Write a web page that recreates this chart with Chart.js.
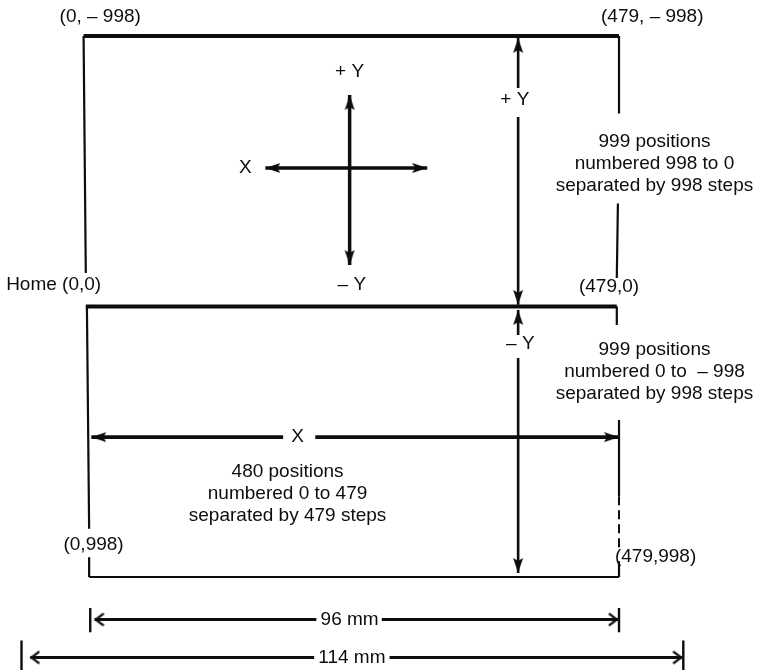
<!DOCTYPE html>
<html>
<head>
<meta charset="utf-8">
<script src="https://cdn.jsdelivr.net/npm/chart.js@4.4.1/dist/chart.umd.min.js"></script>
<style>
  html, body { margin: 0; padding: 0; background: #fff; }
</style>
</head>
<body>
<canvas id="plotterArea" width="769" height="670"></canvas>
<script>
// everything is in plotter steps: x 0..479, y -998 (top) .. 998 (bottom)
// segments are [x1, y1, x2, y2]

// heavy edges of the page
const heavyEdges = [
  [-4, -998, 479, -998],   // top edge
  [-2, 0, 477, 0]          // home line
];

// thin edges, broken where the labels sit
const thinEdges = [
  [-4, -998, -2, -124],
  [-1, 0, 1, 820],
  [1, 925, 1, 998],
  [1, 998, 479, 998],      // bottom edge
  [479, -998, 479, -712],
  [478, -380, 477, -105],
  [477, 0, 477, 68],
  [479, 419, 479, 700],
  [479, 940, 479, 998]
];
const dashedEdges = [
  [479, 700, 479, 900]
];

// the small direction cross
const crossLines = [
  [236, -780, 236, -153],
  [160, -511, 306, -511]
];

// +Y / -Y range arrows
const yRangeLines = [
  [388, -991, 388, -806],
  [388, -699, 388, -6],
  [388, 13, 388, 105],
  [388, 190, 388, 983]
];

// X range arrow, broken by the "X"
const xRangeLines = [
  [3, 482, 176, 482],
  [205, 482, 479, 482]
];

// 96 mm and 114 mm dimension lines
const dimLines = [
  [6, 1155, 206, 1155],
  [265, 1155, 478, 1155],
  [-52, 1295, 204, 1295],
  [272, 1295, 536, 1295]
];
const dimTicks = [
  [2, 1112, 2, 1202],
  [479, 1112, 479, 1202],
  [-60, 1232, -60, 1341],
  [537, 1232, 537, 1341]
];

// arrow tips [x, y, direction]
const solidHeads = [
  [236, -780, 'up'], [236, -153, 'down'], [160, -511, 'left'], [306, -511, 'right'],
  [388, -991, 'up'], [388, -6, 'down'], [388, 13, 'up'], [388, 983, 'down'],
  [3, 482, 'left'], [479, 482, 'right']
];
const openHeads = [
  [6, 1155, 'left'], [478, 1155, 'right'],
  [-52, 1295, 'left'], [536, 1295, 'right']
];

// text [string, x, y]
const labels = [
  ['(0, \u2013 998)', 11, -1068],
  ['(479, \u2013 998)', 509, -1068],
  ['+ Y', 236, -865],
  ['+ Y', 385, -762],
  ['X', 142, -511],
  ['999 positions', 511, -607],
  ['numbered 998 to 0', 511, -526],
  ['separated by 998 steps', 511, -445],
  ['Home (0,0)', -31, -79],
  ['\u2013 Y', 238, -79],
  ['(479,0)', 470, -72],
  ['\u2013 Y', 390, 138],
  ['999 positions', 511, 161],
  ['numbered 0 to  \u2013 998', 511, 242],
  ['separated by 998 steps', 511, 323],
  ['X', 189, 482],
  ['480 positions', 180, 611],
  ['numbered 0 to 479', 180, 692],
  ['separated by 479 steps', 180, 773],
  ['(0,998)', 5, 880],
  ['(479,998)', 512, 925],
  ['96 mm', 236, 1155],
  ['114 mm', 238, 1295]
];

const ink = '#0d0d0d';
const turn = { up: 0, right: 90, down: 180, left: 270 };

// arrowhead pictures, tip sits in the middle of the little canvas so the point is the tip
function makeHead(len, wid, open) {
  const c = document.createElement('canvas');
  c.width = wid + 4;
  c.height = len * 2;
  const g = c.getContext('2d');
  const mid = c.width / 2;
  g.fillStyle = ink;
  g.strokeStyle = ink;
  if (open) {
    g.lineWidth = 2.2;
    g.beginPath();
    g.moveTo(mid - wid / 2, 2 * len - 1);
    g.lineTo(mid, len + 1);
    g.lineTo(mid + wid / 2, 2 * len - 1);
    g.stroke();
  } else {
    g.beginPath();
    g.moveTo(mid, len);
    g.lineTo(mid + wid / 2, 2 * len);
    g.lineTo(mid, 2 * len - 3);
    g.lineTo(mid - wid / 2, 2 * len);
    g.closePath();
    g.fill();
  }
  return c;
}
const solidPic = makeHead(15, 10, false);
const openPic = makeHead(10, 12, true);

function segSet(list, width, dash) {
  return list.map(function(s) {
    return {
      data: [{ x: s[0], y: s[1] }, { x: s[2], y: s[3] }],
      showLine: true,
      borderColor: ink,
      borderWidth: width,
      borderDash: dash || [],
      pointRadius: 0,
      pointHoverRadius: 0
    };
  });
}

function headSet(list, pic) {
  return {
    data: list.map(function(h) { return { x: h[0], y: h[1] }; }),
    showLine: false,
    pointStyle: pic,
    pointRadius: 6,
    pointHoverRadius: 6,
    pointRotation: list.map(function(h) { return turn[h[2]]; }),
    backgroundColor: ink,
    borderColor: ink
  };
}

var datasets = []
  .concat(segSet(heavyEdges, 4))
  .concat(segSet(thinEdges, 2.2))
  .concat(segSet(dashedEdges, 2, [9, 5]))
  .concat(segSet(crossLines, 3.5))
  .concat(segSet(yRangeLines, 2.6))
  .concat(segSet(xRangeLines, 3.8))
  .concat(segSet(dimLines, 3))
  .concat(segSet(dimTicks, 2.4));
datasets.push(headSet(solidHeads, solidPic));
datasets.push(headSet(openHeads, openPic));

// writes the labels at their plotter coordinates
const textPlugin = {
  id: 'plotterText',
  afterDatasetsDraw: function(chart) {
    const ctx = chart.ctx;
    const sx = chart.scales.x;
    const sy = chart.scales.y;
    ctx.save();
    ctx.fillStyle = ink;
    ctx.font = '19px "Liberation Sans", Arial, Helvetica, sans-serif';
    ctx.textAlign = 'center';
    ctx.textBaseline = 'middle';
    labels.forEach(function(l) {
      ctx.fillText(l[0], sx.getPixelForValue(l[1]), sy.getPixelForValue(l[2]));
    });
    ctx.restore();
  }
};

new Chart(document.getElementById('plotterArea'), {
  type: 'scatter',
  data: { datasets: datasets },
  options: {
    responsive: false,
    animation: false,
    events: [],
    layout: { padding: 0, autoPadding: false },
    plugins: {
      legend: { display: false },
      tooltip: { enabled: false }
    },
    scales: {
      x: { type: 'linear', display: false, min: -79.4, max: 614.3 },
      y: { type: 'linear', display: false, reverse: true, min: -1130.8, max: 1341.1 }
    }
  },
  plugins: [textPlugin]
});
</script>
</body>
</html>
